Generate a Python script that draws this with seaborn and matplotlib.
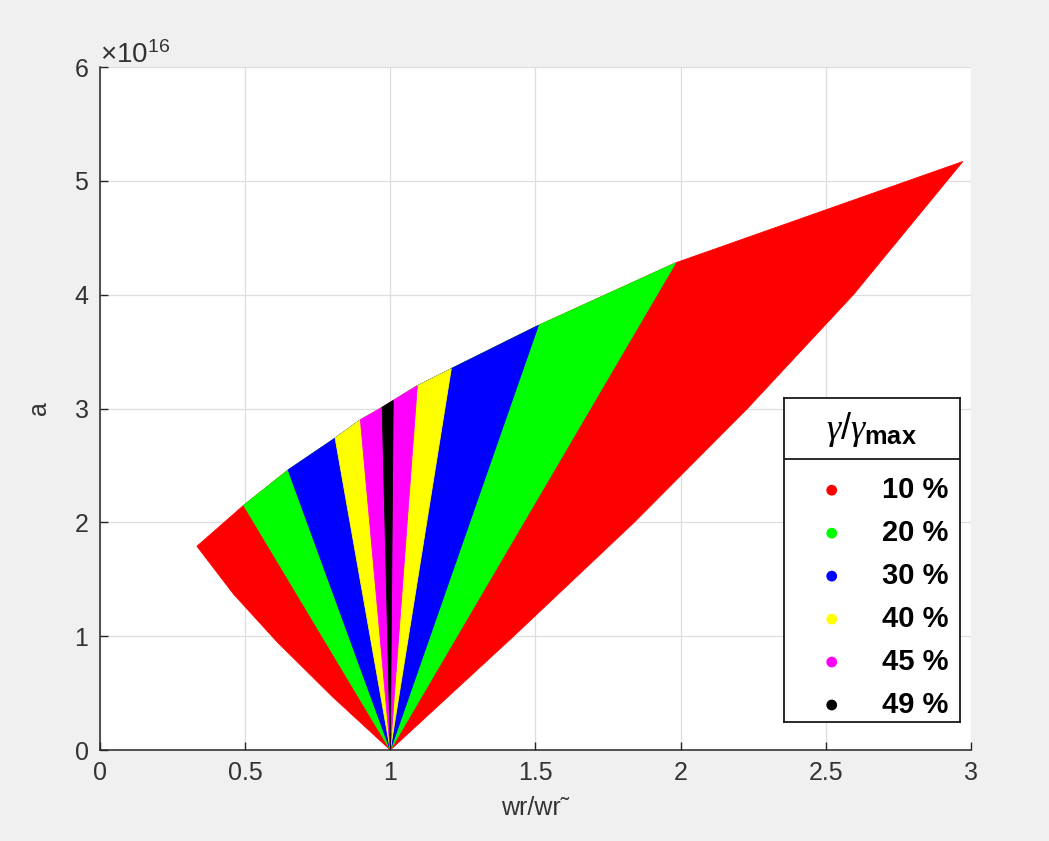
import numpy as np
import matplotlib
matplotlib.use("Agg")
import matplotlib.pyplot as plt
import seaborn as sns

# ---- data (a in units of 1e16) ----
A_UNIT = 1e16
APEX_X, APEX_A = 1.0, 0.0

# upper envelope of the admissible region
upper_x = [0.334, 0.495, 0.648, 0.81, 0.897, 0.972, 1.01, 1.093, 1.21, 1.51, 1.983, 2.972]
upper_a = [1.79, 2.15, 2.46, 2.74, 2.90, 3.01, 3.07, 3.20, 3.35, 3.73, 4.28, 5.17]

# lower envelope: left and right outer edges, from the apex upwards
outer_left_x = [1.0, 0.80, 0.61, 0.46, 0.334]
outer_left_a = [0.0, 0.47, 0.95, 1.37, 1.79]
outer_right_x = [1.0, 1.425, 1.84, 2.23, 2.595, 2.972]
outer_right_a = [0.0, 1.0, 2.0, 3.0, 4.0, 5.17]

levels = ["10 %", "20 %", "30 %", "40 %", "45 %", "49 %"]
level_colors = ["#ff0000", "#00ff00", "#0000ff", "#ffff00", "#ff00ff", "#000000"]

# where the borders of the 20 % ... 49 % levels meet the upper envelope
inner_left_top_x = [0.495, 0.648, 0.81, 0.897, 0.972]
inner_right_top_x = [1.983, 1.51, 1.21, 1.093, 1.01]

x_ticks = [0, 0.5, 1, 1.5, 2, 2.5, 3]
y_ticks = [0, 1, 2, 3, 4, 5, 6]

# ---- style ----
sns.set_theme(style="whitegrid")
plt.rcParams["font.family"] = ["Liberation Sans", "DejaVu Sans"]
plt.rcParams["mathtext.fontset"] = "custom"
plt.rcParams["mathtext.rm"] = "Liberation Sans"
plt.rcParams["mathtext.it"] = "Liberation Serif:italic"
plt.rcParams["mathtext.bf"] = "Liberation Sans:bold"

AXIS_COL = "#262626"
TEXT_COL = "#333333"

fig = plt.figure(figsize=(10.49, 8.41), dpi=100, facecolor="#f0f0f0")
ax = fig.add_axes([0.0953, 0.1082, 0.8303, 0.8121])
ax.set_facecolor("white")

ux = np.asarray(upper_x)
ua = np.asarray(upper_a)


def upper_between(x0, x1):
    mask = (ux > x0 + 1e-9) & (ux < x1 - 1e-9)
    return list(ux[mask]), list(ua[mask])


def upper_at(x):
    return float(ua[np.argmin(np.abs(ux - x))])


# outermost level: bounded by the curved outer edges and the whole upper envelope
polys = []
mx, ma = upper_between(outer_left_x[-1], outer_right_x[-1])
polys.append((
    outer_left_x + mx + outer_right_x[::-1],
    outer_left_a + ma + outer_right_a[::-1],
))
# inner levels: straight borders from the apex to the upper envelope
for lx, rx in zip(inner_left_top_x, inner_right_top_x):
    mx, ma = upper_between(lx, rx)
    polys.append((
        [APEX_X, lx] + mx + [rx, APEX_X],
        [APEX_A, upper_at(lx)] + ma + [upper_at(rx), APEX_A],
    ))

for (px, pa), col in zip(polys, level_colors):
    ax.fill(np.asarray(px), np.asarray(pa) * A_UNIT, facecolor=col, edgecolor=col,
            linewidth=0.6, zorder=2)

ax.set_xlim(0, 3)
ax.set_ylim(0, 6 * A_UNIT)
ax.set_xticks(x_ticks)
ax.set_xticklabels([f"{t:g}" for t in x_ticks])
ax.set_yticks([t * A_UNIT for t in y_ticks])
ax.ticklabel_format(axis="y", style="sci", scilimits=(0, 0), useMathText=True)

ax.grid(True, color="#dedede", linewidth=0.9, zorder=0)
ax.set_axisbelow(True)
for side in ("top", "right"):
    ax.spines[side].set_visible(False)
for side in ("left", "bottom"):
    ax.spines[side].set_color(AXIS_COL)
    ax.spines[side].set_linewidth(1.1)
    ax.spines[side].set_zorder(5)

ax.tick_params(axis="both", direction="in", length=6, width=1.0, color=AXIS_COL,
               labelcolor=TEXT_COL, labelsize=18, left=True, bottom=True, pad=8)
offset = ax.yaxis.get_offset_text()
offset.set_fontsize(20)
offset.set_color(TEXT_COL)

ax.set_xlabel("wr/wr\u02dc", fontsize=18, color=TEXT_COL, labelpad=8)
ax.set_ylabel("a", fontsize=18, color=TEXT_COL, labelpad=16)

# ---- legend box ----
lax = ax.inset_axes([0.785, 0.041, 0.202, 0.474])
lax.set_xlim(0, 1)
lax.set_ylim(0, 1)
lax.set_facecolor("white")
lax.grid(False)
lax.set_xticks([])
lax.set_yticks([])
for sp in lax.spines.values():
    sp.set_color("#1a1a1a")
    sp.set_linewidth(1.3)
    sp.set_visible(True)
lax.set_zorder(6)

title_y = 0.905
sep_y = 0.812
row_top = 0.716
row_step = 0.1327
rows = [row_top - i * row_step for i in range(len(levels))]

lax.text(0.5, title_y, r"$\gamma$/$\gamma_{\mathbf{max}}$", ha="center", va="center",
         fontsize=26, color="black")
lax.axhline(sep_y, color="#1a1a1a", linewidth=1.3)
sns.scatterplot(x=[0.273] * len(levels), y=rows, hue=levels, palette=level_colors,
                s=60, edgecolor="none", legend=False, ax=lax)
for yv, lab in zip(rows, levels):
    lax.text(0.935, yv, lab, ha="right", va="center", fontsize=21,
             fontweight="bold", color="black")
lax.set_xlabel("")
lax.set_ylabel("")

fig.savefig("out.png", dpi=100, facecolor=fig.get_facecolor())
